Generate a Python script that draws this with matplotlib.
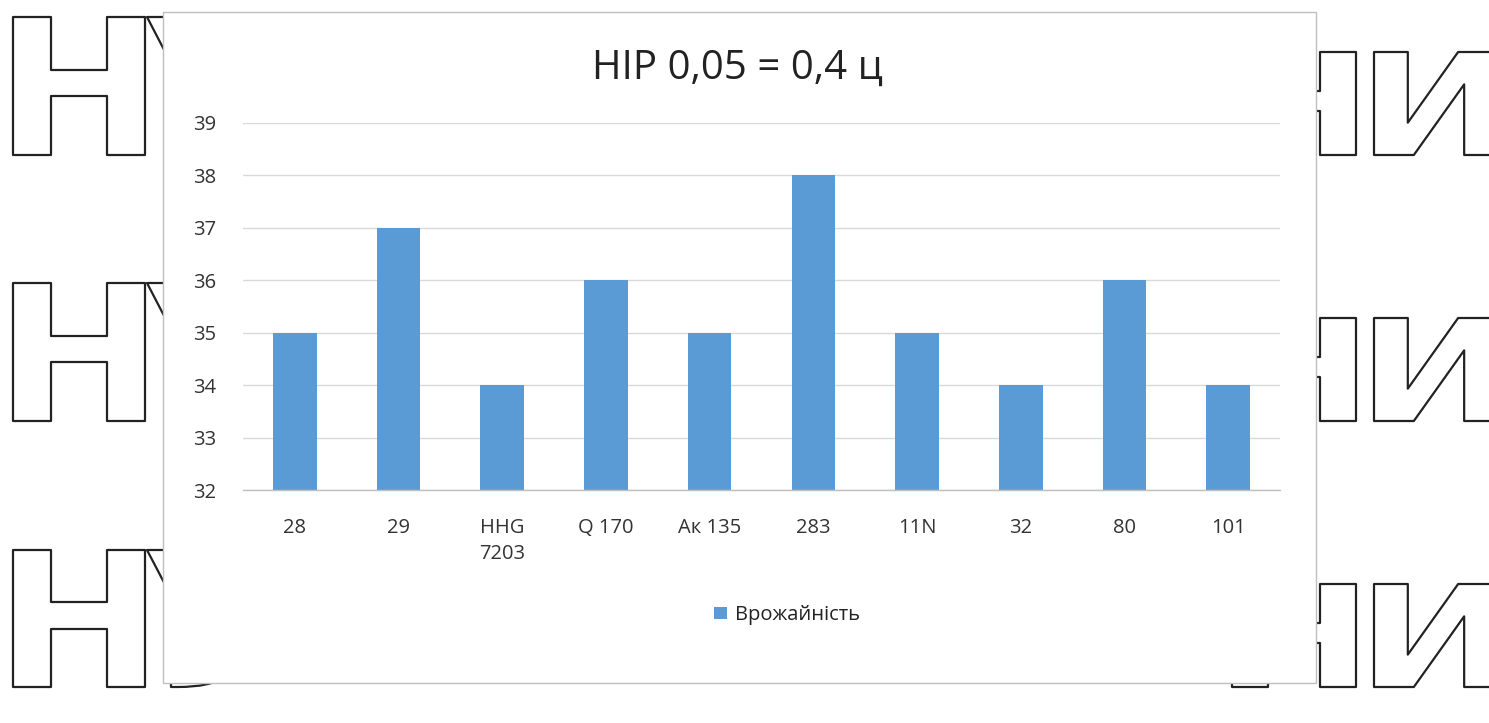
import matplotlib
matplotlib.use("Agg")
import matplotlib.pyplot as plt
from matplotlib.patches import Rectangle, PathPatch
from matplotlib.textpath import TextPath
from matplotlib.font_manager import FontProperties
from matplotlib.transforms import Affine2D, IdentityTransform

# data
varieties = ["28", "29", "HHG\n7203", "Q 170", "Ак 135", "283", "11N", "32", "80", "101"]
yield_c = [35, 37, 34, 36, 35, 38, 35, 34, 36, 34]
title = "НІР 0,05 = 0,4 ц"
series_name = "Врожайність"

W, H = 1489, 723
plt.rcParams["font.family"] = ["Open Sans", "DejaVu Sans"]

fig = plt.figure(figsize=(W / 100, H / 100), dpi=100)
fig.patch.set_facecolor("white")

# background watermark letters (outlined)
wm_font = FontProperties(family="DejaVu Sans", weight="bold")


def outlined(text, x0, y_top, y_bot, width_ref, anchor="left"):
    ref = TextPath((0, 0), "Н", size=100, prop=wm_font).get_extents()
    sx = width_ref / ref.width
    sy = (y_bot - y_top) / ref.height
    tp = TextPath((0, 0), text, size=100, prop=wm_font)
    ext = tp.get_extents()
    if anchor == "left":
        tx = x0 - ext.x0 * sx
    else:
        tx = x0 - ext.x1 * sx
    ty = (H - y_bot) - ref.y0 * sy
    path = tp.transformed(Affine2D().scale(sx, sy).translate(tx, ty))
    fig.patches.append(PathPatch(path, transform=IdentityTransform(), facecolor="white",
                                 edgecolor="#222222", lw=1.6, joinstyle="round", zorder=0))


for top, bot in [(17, 155), (283, 421), (550, 687)]:
    outlined("Н", 13, top, bot, 132, "left")
    outlined("У", 147, top, bot, 132, "left")
for top, bot in [(52, 155), (318, 421), (584, 687)]:
    outlined("Н", 1356, top, bot, 124, "right")
    outlined("И", 1374, top, bot, 124, "left")

# chart area box
fig.patches.append(Rectangle((163 / W, 1 - 683 / H), (1316 - 163) / W, (683 - 12) / H,
                             transform=fig.transFigure, facecolor="white",
                             edgecolor="#BFBFBF", lw=1.0, zorder=1))

ax = fig.add_axes([243 / W, 1 - 490 / H, (1280 - 243) / W, (490 - 123) / H], zorder=2)
ax.patch.set_alpha(0)

x = range(len(varieties))
ax.bar(x, yield_c, width=0.42, bottom=0, color="#5B9BD5", label=series_name, zorder=3)
ax.set_ylim(32, 39)
ax.set_xlim(-0.5, len(varieties) - 0.5)
ax.set_yticks(range(32, 40))
ax.set_xticks(list(x))
ax.set_xticklabels(varieties, fontsize=14.5, color="#333333", linespacing=1.4)
ax.tick_params(axis="y", labelsize=14.5, labelcolor="#333333", length=0, pad=19)
ax.tick_params(axis="x", length=0, pad=20)
ax.grid(axis="y", color="#D9D9D9", lw=1.0, zorder=0)
for s in ["top", "right", "left"]:
    ax.spines[s].set_visible(False)
ax.spines["bottom"].set_color("#BFBFBF")
ax.spines["bottom"].set_linewidth(1.0)
ax.spines["bottom"].set_zorder(4)

fig.text(737 / W, 1 - 69 / H, title, fontsize=29, color="#222222", ha="center", va="center", zorder=3)

leg = fig.legend(loc="center", bbox_to_anchor=(787 / W, 1 - 615 / H), frameon=False,
                 fontsize=14.5, handlelength=0.6, handleheight=0.6, handletextpad=0.4)
for t in leg.get_texts():
    t.set_color("#222222")
leg.set_zorder(3)

fig.savefig("out.png", dpi=100)
